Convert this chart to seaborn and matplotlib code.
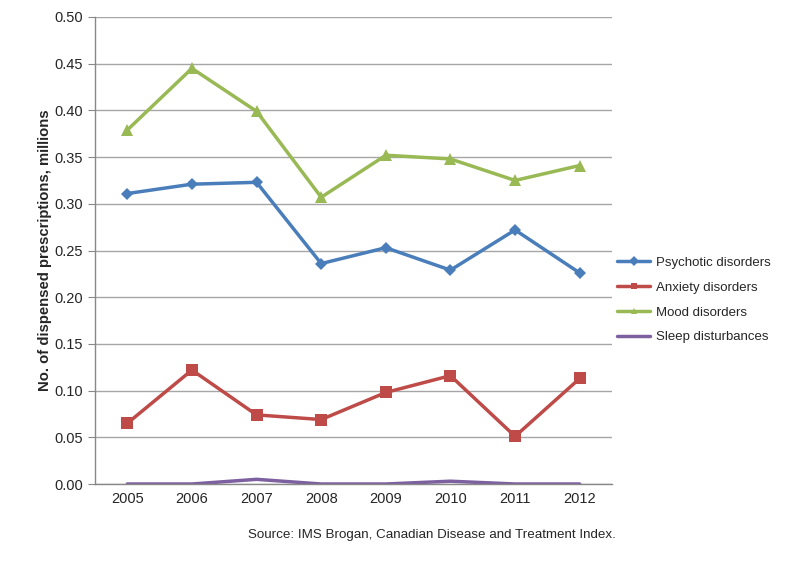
import matplotlib
matplotlib.use("Agg")
import matplotlib.pyplot as plt
import seaborn as sns
import pandas as pd
import numpy as np

years = ["2005", "2006", "2007", "2008", "2009", "2010", "2011", "2012"]
psychotic = [0.311, 0.321, 0.323, 0.236, 0.253, 0.229, 0.272, 0.226]
anxiety = [0.065, 0.122, 0.074, 0.069, 0.098, 0.116, 0.051, 0.113]
mood = [0.379, 0.445, 0.399, 0.307, 0.352, 0.348, 0.325, 0.341]
sleep = [0.0, 0.0, 0.005, 0.0, 0.0, 0.003, 0.0, 0.0]
series_names = ["Psychotic disorders", "Anxiety disorders", "Mood disorders", "Sleep disturbances"]
y_ticks = [0.00, 0.05, 0.10, 0.15, 0.20, 0.25, 0.30, 0.35, 0.40, 0.45, 0.50]

sns.set_style("white")
plt.rcParams['font.family'] = ['Liberation Sans', 'DejaVu Sans']

fig = plt.figure(figsize=(7.88, 5.68), dpi=100)
ax = fig.add_axes([95/788, 1 - 484/568, (612-95)/788, (484-17)/568])

x = np.arange(len(years))
styles = [
    (psychotic, "#4a7ebb", "D", 6),
    (anxiety, "#be4b48", "s", 8),
    (mood, "#98b954", "^", 8),
    (sleep, "#7d60a0", None, 0),
]
for name, (vals, color, marker, ms) in zip(series_names, styles):
    df = pd.DataFrame({"x": x, "y": vals})
    sns.lineplot(data=df, x="x", y="y", ax=ax, color=color, linewidth=2.5,
                 marker=marker, markersize=ms, markeredgewidth=0, label=name)

ax.set_xlim(-0.5, len(years) - 0.5)
ax.set_ylim(0, 0.5)
ax.set_yticks(y_ticks)
ax.set_yticklabels([f"{v:.2f}" for v in y_ticks], fontsize=10.5)
ax.set_xticks(x)
ax.set_xticklabels(years, fontsize=10.5)
ax.set_xticks(np.arange(-0.5, len(years)), minor=True)
ax.tick_params(axis="x", which="major", length=0, pad=6)
ax.tick_params(axis="x", which="minor", length=6, color="#888888", direction="out")
ax.tick_params(axis="y", length=5, color="#888888", direction="out", left=True)
ax.yaxis.grid(True, color="#a6a6a6", linewidth=1)
ax.set_axisbelow(True)
for s in ["top", "right"]:
    ax.spines[s].set_visible(False)
for s in ["left", "bottom"]:
    ax.spines[s].set_color("#888888")
    ax.spines[s].set_linewidth(1)
ax.set_xlabel("")
ax.set_ylabel("No. of dispensed prescriptions, millions", fontsize=10.7, fontweight="bold", labelpad=2)

leg = ax.legend(loc="center left", bbox_to_anchor=(1.01, 0.394), frameon=False, fontsize=9.5,
                handlelength=2.5, labelspacing=0.95, handletextpad=0.45, borderaxespad=0,
                borderpad=0)
for h in leg.get_lines():
    h.set_markersize(5)

fig.text(432/788, 1 - 535/568, "Source: IMS Brogan, Canadian Disease and Treatment Index.",
         ha="center", va="center", fontsize=9.6)

fig.savefig("out.png", dpi=100)
